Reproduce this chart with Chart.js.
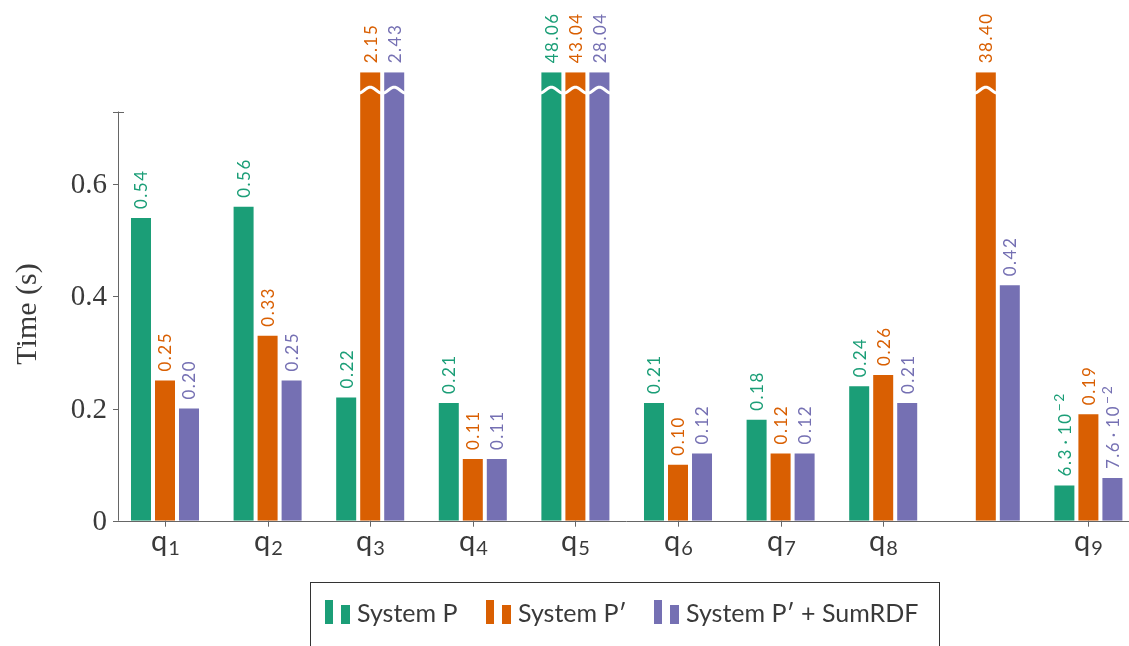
<!DOCTYPE html>
<html>
<head>
<meta charset="utf-8">
<script src="https://cdn.jsdelivr.net/npm/chart.js@4"></script>
<style>
  html, body { margin: 0; padding: 0; background: #fff; overflow: hidden; }
  #wrap { position: relative; width: 1129px; height: 646px; overflow: hidden; }
  #grafico { position: absolute; left: 0; top: 0; }
  #legenda {
    position: absolute; left: 310px; top: 582px; width: 630px; height: 80px;
    border: 1px solid #333; box-sizing: border-box;
    font-family: Lato, sans-serif; font-size: 25px; color: #3a3a3a;
  }
  .voce { position: absolute; top: 15px; display: flex; align-items: flex-end; height: 26px; }
  .segno { position: relative; width: 26px; height: 24px; margin-right: 6px; }
  .segno span { position: absolute; bottom: 0; }
  .testo { line-height: 24px; white-space: nowrap; }
</style>
</head>
<body>
<div id="wrap">
  <canvas id="grafico" width="1140" height="646"></canvas>
  <div id="legenda"></div>
</div>
<script>
// dati
const categorie = ["1", "2", "3", "4", "5", "6", "7", "8", "", "9"];
const systemP = [0.54, 0.56, 0.22, 0.21, 48.06, 0.21, 0.18, 0.24, null, 0.063];
const systemP2 = [0.25, 0.33, 2.15, 0.11, 43.04, 0.10, 0.12, 0.26, 38.40, 0.19];
const systemP2Sum = [0.20, 0.25, 2.43, 0.11, 28.04, 0.12, 0.12, 0.21, 0.42, 0.076];
const nomiSerie = ["System P", "System P\u2032", "System P\u2032 + SumRDF"];
const colori = ["#1b9e77", "#d95f02", "#7570b3"];
const tickY = [0, 0.2, 0.4, 0.6];
const assePiuAlto = 0.73; // fine dell'asse y
const yMax = 0.8; // le barre oltre vengono tagliate
const yTaglio = 0.768; // dove sta l'ondina bianca

const serie = [systemP, systemP2, systemP2Sum];

// formato delle etichette: 2 decimali, sotto 0.1 notazione scientifica
const formatta = (v) => {
    if (v < 0.1) {
        return { base: (v * 100).toFixed(1) + "\u2009\u00b7\u2009" + "10", esp: "\u22122" };
    }
    return { base: v.toFixed(2), esp: null };
};

const disegnaAssi = {
    id: "disegnaAssi",
    afterDatasetsDraw(chart) {
        const ctx = chart.ctx;
        const x = chart.scales.x;
        const y = chart.scales.y;
        const y0 = y.getPixelForValue(0);
        const asseX = 118.5;
        ctx.save();
        ctx.strokeStyle = "#666";
        ctx.lineWidth = 1;
        // asse y
        ctx.beginPath();
        ctx.moveTo(asseX, y0);
        ctx.lineTo(asseX, y.getPixelForValue(assePiuAlto));
        ctx.stroke();
        ctx.beginPath();
        ctx.moveTo(113, Math.round(y.getPixelForValue(assePiuAlto)) + 0.5);
        ctx.lineTo(124, Math.round(y.getPixelForValue(assePiuAlto)) + 0.5);
        ctx.stroke();
        // asse x
        ctx.beginPath();
        ctx.moveTo(113, Math.round(y0) + 0.5);
        ctx.lineTo(1140, Math.round(y0) + 0.5);
        ctx.stroke();

        ctx.fillStyle = "#3a3a3a";
        ctx.font = "29px 'Liberation Serif'";
        ctx.textAlign = "right";
        ctx.textBaseline = "middle";
        tickY.forEach((t) => {
            const py = Math.round(y.getPixelForValue(t)) + 0.5;
            ctx.beginPath();
            ctx.moveTo(113, py);
            ctx.lineTo(asseX, py);
            ctx.stroke();
            ctx.fillText(t === 0 ? "0" : t.toFixed(1), 107, py + 1);
        });

        // titolo asse y
        ctx.save();
        ctx.translate(28, 314);
        ctx.rotate(-Math.PI / 2);
        ctx.textAlign = "center";
        ctx.font = "30px 'Liberation Serif'";
        ctx.fillText("Time (s)", 0, 0);
        ctx.restore();

        // etichette asse x
        categorie.forEach((c, i) => {
            if (!c) return;
            const px = Math.round(x.getPixelForValue(i)) + 0.5;
            ctx.beginPath();
            ctx.moveTo(px, y0);
            ctx.lineTo(px, y0 + 6);
            ctx.stroke();
            ctx.font = "29px Lato";
            const wq = ctx.measureText("q").width;
            ctx.font = "20px Lato";
            const wn = ctx.measureText(c).width;
            const sx = px - (wq + wn + 1) / 2;
            ctx.textAlign = "left";
            ctx.textBaseline = "alphabetic";
            ctx.font = "29px Lato";
            ctx.fillText("q", sx, 551);
            ctx.font = "20px Lato";
            ctx.fillText(c, sx + wq + 1, 555);
        });

        // barre tagliate e valori
        serie.forEach((valori, s) => {
            const meta = chart.getDatasetMeta(s);
            valori.forEach((v, i) => {
                if (v === null) return;
                const bar = meta.data[i];
                const bx = bar.x;
                const w = bar.width;
                if (v > yMax) {
                    const yc = y.getPixelForValue(yTaglio);
                    ctx.save();
                    ctx.strokeStyle = "#fff";
                    ctx.lineWidth = 3;
                    ctx.beginPath();
                    for (let k = -2; k <= w + 2; k++) {
                        const py = yc + 3 * Math.cos((2 * Math.PI * (k + 2)) / (w + 4));
                        if (k === -2) ctx.moveTo(bx - w / 2 + k, py);
                        else ctx.lineTo(bx - w / 2 + k, py);
                    }
                    ctx.stroke();
                    ctx.restore();
                }
                const testo = formatta(v);
                ctx.save();
                ctx.translate(bx + 1, bar.y - 9);
                ctx.rotate(-Math.PI / 2);
                ctx.fillStyle = colori[s];
                ctx.font = "17px Lato";
                ctx.letterSpacing = "1.5px";
                ctx.textAlign = "left";
                ctx.textBaseline = "middle";
                ctx.fillText(testo.base, 0, 0);
                if (testo.esp) {
                    const wb = ctx.measureText(testo.base).width;
                    ctx.font = "14px Lato";
                    ctx.fillText(testo.esp, wb + 1, -6);
                }
                ctx.restore();
            });
        });
        ctx.restore();
    },
};

new Chart(document.getElementById("grafico").getContext("2d"), {
    type: "bar",
    data: {
        labels: categorie,
        datasets: serie.map((valori, s) => ({
            label: nomiSerie[s],
            data: valori.map((v) => (v === null ? null : Math.min(v, yMax))),
            backgroundColor: colori[s],
            borderWidth: 0,
            categoryPercentage: 0.702,
            barPercentage: 0.833,
        })),
    },
    options: {
        responsive: false,
        animation: false,
        layout: { padding: { left: 113.7, right: 0.3, top: 72.3, bottom: 125.3 } },
        scales: {
            x: { display: false, offset: true },
            y: { display: false, min: 0, max: yMax },
        },
        plugins: { legend: { display: false }, tooltip: { enabled: false } },
    },
    plugins: [disegnaAssi],
});

// legenda html
const legenda = document.getElementById("legenda");
const posizioni = [14, 175, 343];
nomiSerie.forEach((nome, s) => {
    const voce = document.createElement("div");
    voce.className = "voce";
    voce.style.left = posizioni[s] + "px";
    voce.innerHTML =
        '<div class="segno">' +
        '<span style="left:0;width:8px;height:24px;background:' + colori[s] + '"></span>' +
        '<span style="left:16px;width:9px;height:19px;background:' + colori[s] + '"></span>' +
        "</div>" +
        '<div class="testo">' + nome + "</div>";
    legenda.appendChild(voce);
});
</script>
</body>
</html>
